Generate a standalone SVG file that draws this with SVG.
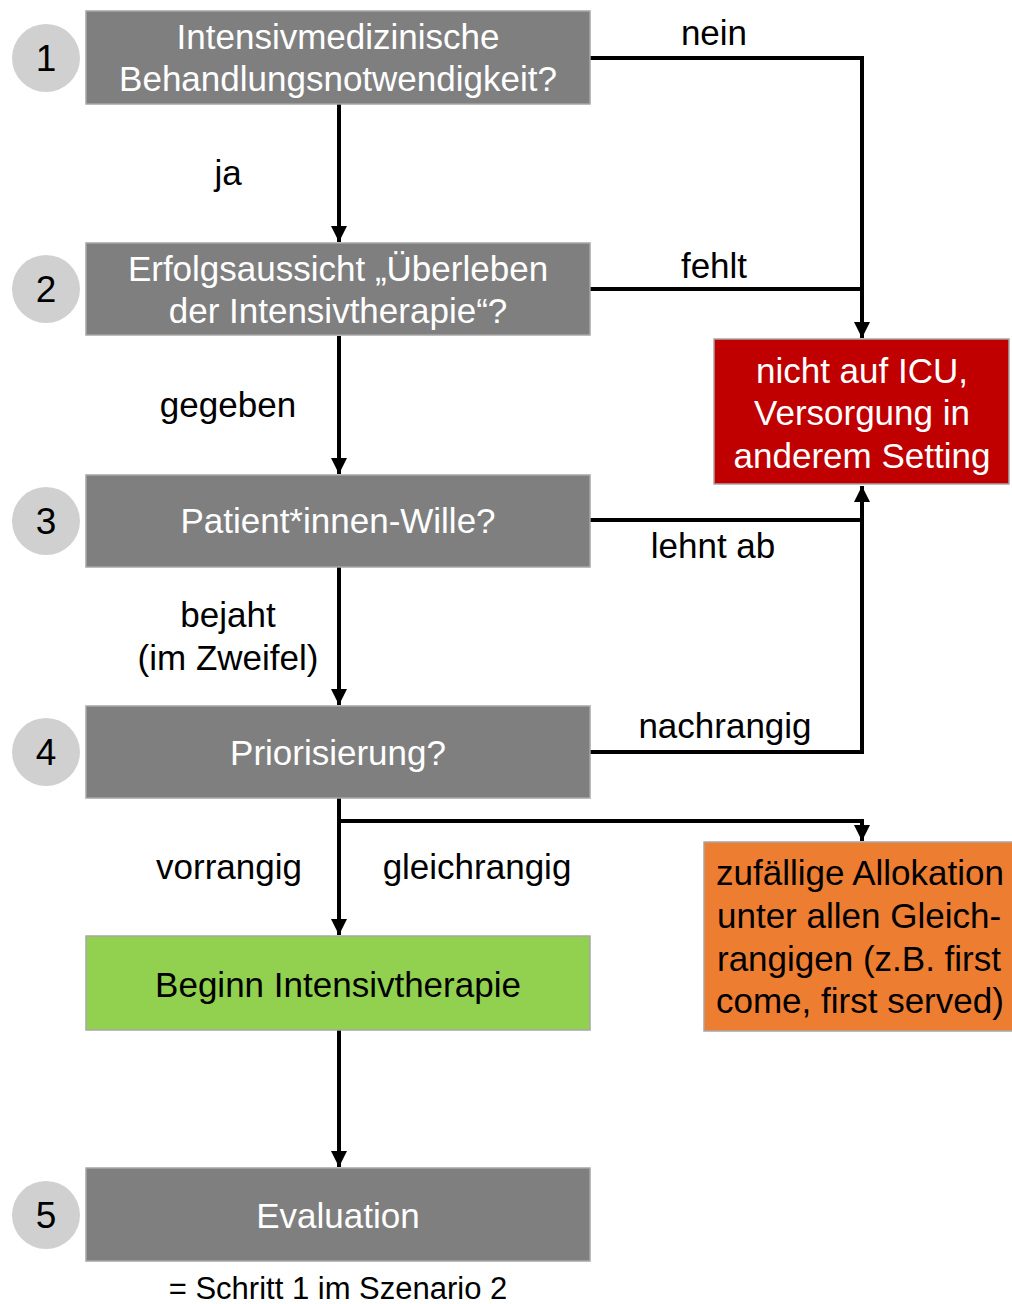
<svg xmlns="http://www.w3.org/2000/svg" width="1012" height="1304" viewBox="0 0 1012 1304">
<style>
text{font-family:"Liberation Sans",Arial,sans-serif;font-size:35px}
.box{fill:#7f7f7f;stroke:#a6a6a6;stroke-width:1.5}
.wt{fill:#fff;text-anchor:middle}
.bt{fill:#000;text-anchor:middle}
.num{fill:#000;text-anchor:middle;font-size:37px}
.circ{fill:#d0d0d0}
.con{fill:none;stroke:#000;stroke-width:4}
</style>
<defs>
<marker id="ah" viewBox="0 0 10 10" refX="10" refY="5" markerWidth="4" markerHeight="4" markerUnits="strokeWidth" orient="auto">
<path d="M0,0 L10,5 L0,10 z" fill="#000"/>
</marker>
</defs>
<rect width="1012" height="1304" fill="#fff"/>
<g id="connectors">
<polyline class="con" points="590,58 862,58 862,338" marker-end="url(#ah)"/>
<line class="con" x1="590" y1="289" x2="862" y2="289"/>
<line class="con" x1="339" y1="104" x2="339" y2="242" marker-end="url(#ah)"/>
<line class="con" x1="339" y1="336" x2="339" y2="474" marker-end="url(#ah)"/>
<line class="con" x1="339" y1="567" x2="339" y2="705" marker-end="url(#ah)"/>
<polyline class="con" points="590,752 862,752 862,486" marker-end="url(#ah)"/>
<line class="con" x1="590" y1="520" x2="862" y2="520"/>
<line class="con" x1="339" y1="798" x2="339" y2="935" marker-end="url(#ah)"/>
<polyline class="con" points="339,821 862,821 862,841" marker-end="url(#ah)"/>
<line class="con" x1="339" y1="1030" x2="339" y2="1167" marker-end="url(#ah)"/>
<text class="bt" x="714" y="45">nein</text>
<text class="bt" x="228" y="185">ja</text>
<text class="bt" x="714" y="278">fehlt</text>
<text class="bt" x="228" y="417">gegeben</text>
<text class="bt" x="713" y="558">lehnt ab</text>
<text class="bt" x="228" y="627">bejaht</text>
<text class="bt" x="228" y="670">(im Zweifel)</text>
<text class="bt" x="725" y="738">nachrangig</text>
<text class="bt" x="229" y="879">vorrangig</text>
<text class="bt" x="477" y="879">gleichrangig</text>
</g>
<g id="n1">
<ellipse class="circ" cx="46" cy="58" rx="34" ry="34"/>
<text class="num" x="46" y="71">1</text>
<rect class="box" x="86" y="11" width="504" height="93"/>
<text class="wt" x="338" y="49">Intensivmedizinische</text>
<text class="wt" x="338" y="91">Behandlungsnotwendigkeit?</text>
</g>
<g id="n2">
<ellipse class="circ" cx="46" cy="289" rx="34" ry="34"/>
<text class="num" x="46" y="302">2</text>
<rect class="box" x="86" y="243" width="504" height="92"/>
<text class="wt" x="338" y="281">Erfolgsaussicht „Überleben</text>
<text class="wt" x="338" y="323">der Intensivtherapie“?</text>
</g>
<g id="n3">
<ellipse class="circ" cx="46" cy="521" rx="34" ry="34"/>
<text class="num" x="46" y="534">3</text>
<rect class="box" x="86" y="475" width="504" height="92"/>
<text class="wt" x="338" y="533">Patient*innen-Wille?</text>
</g>
<g id="n4">
<ellipse class="circ" cx="46" cy="752" rx="34" ry="34"/>
<text class="num" x="46" y="765">4</text>
<rect class="box" x="86" y="706" width="504" height="92"/>
<text class="wt" x="338" y="765">Priorisierung?</text>
</g>
<g id="nicu">
<rect x="714" y="339" width="295" height="145" fill="#c00000" stroke="#a6a6a6" stroke-width="1.5"/>
<text class="wt" x="862" y="383">nicht auf ICU,</text>
<text class="wt" x="862" y="425">Versorgung in</text>
<text class="wt" x="862" y="468">anderem Setting</text>
</g>
<g id="nrand">
<rect x="704" y="842" width="312" height="189" fill="#ed7d31" stroke="#a6a6a6" stroke-width="1.5"/>
<text x="716" y="885">zufällige Allokation</text>
<text x="717" y="928">unter allen Gleich-</text>
<text x="717" y="971">rangigen (z.B. first</text>
<text x="716" y="1013">come, first served)</text>
</g>
<g id="ngreen">
<rect x="86" y="936" width="504" height="94" fill="#92d050" stroke="#a6a6a6" stroke-width="1.5"/>
<text class="bt" x="338" y="997">Beginn Intensivtherapie</text>
</g>
<g id="n5">
<ellipse class="circ" cx="46" cy="1215" rx="34" ry="34"/>
<text class="num" x="46" y="1228">5</text>
<rect class="box" x="86" y="1168" width="504" height="93"/>
<text class="wt" x="338" y="1228">Evaluation</text>
</g>
<g id="footer">
<text class="bt" x="338" y="1299" style="font-size:31px">= Schritt 1 im Szenario 2</text>
</g>
</svg>
